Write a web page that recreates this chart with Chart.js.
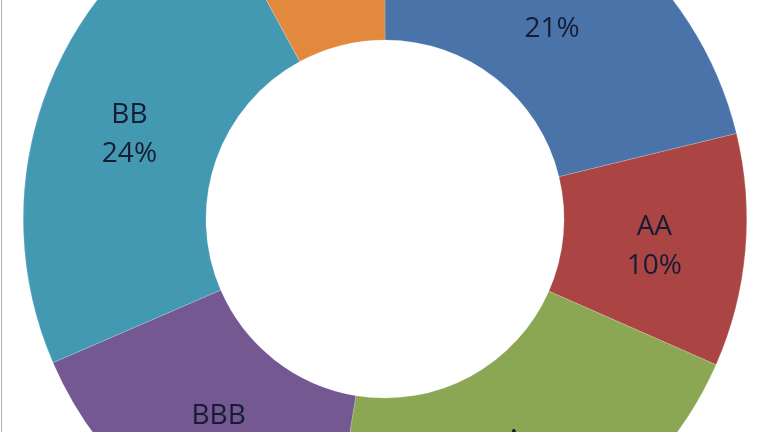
<!DOCTYPE html>
<html>
<head>
<meta charset="utf-8">
<script src="https://cdn.jsdelivr.net/npm/chart.js@4.4.1/dist/chart.umd.min.js"></script>
<style>
    html, body { margin: 0; padding: 0; background: #ffffff; overflow: hidden; }
    body { width: 768px; height: 432px; position: relative; }
    #wrap { position: absolute; left: 1px; top: -143px; width: 768px; height: 724px; }
    #edge { position: absolute; left: 1px; top: 0; width: 0; height: 432px; border-left: 1px solid #b4b4b4; }
</style>
</head>
<body>
<div id="wrap"><canvas id="chart" width="768" height="724"></canvas></div>
<div id="edge"></div>
<script>
// clockwise from 12 o'clock
const labels = ['AAA', 'AA', 'A', 'BBB', 'BB', 'B'];
const shares = [21.2, 10.4, 21.0, 15.9, 23.6, 7.9];
const colors = ['#4a73aa', '#aa4543', '#8ba753', '#735891', '#4399b2', '#e2893e'];

// Excel-style "name / percent" labels in the middle of each ring slice
const sliceLabels = {
    id: 'sliceLabels',
    afterDatasetsDraw(chart) {
        const ctx = chart.ctx;
        const meta = chart.getDatasetMeta(0);
        const total = shares.reduce((a, b) => a + b, 0);
        ctx.save();
        ctx.font = '28px "Open Sans", sans-serif';
        ctx.fillStyle = '#181c33';
        ctx.textAlign = 'center';
        ctx.textBaseline = 'middle';
        meta.data.forEach((arc, i) => {
            const p = arc.getCenterPoint();
            const pct = Math.round(shares[i] / total * 100) + '%';
            ctx.fillText(labels[i], p.x, p.y - 16);
            ctx.fillText(pct, p.x, p.y + 23);
        });
        ctx.restore();
    }
};

const chart = new Chart(document.getElementById('chart'), {
    type: 'doughnut',
    data: {
        labels: labels,
        datasets: [{
            data: shares,
            backgroundColor: colors,
            borderColor: 'rgba(255,255,255,0.35)',
            borderWidth: 0.5
        }]
    },
    options: {
        responsive: false,
        animation: false,
        cutout: '49.5%',
        layout: { padding: 0 },
        plugins: {
            legend: { display: false },
            tooltip: { enabled: false }
        }
    },
    plugins: [sliceLabels]
});
</script>
</body>
</html>
